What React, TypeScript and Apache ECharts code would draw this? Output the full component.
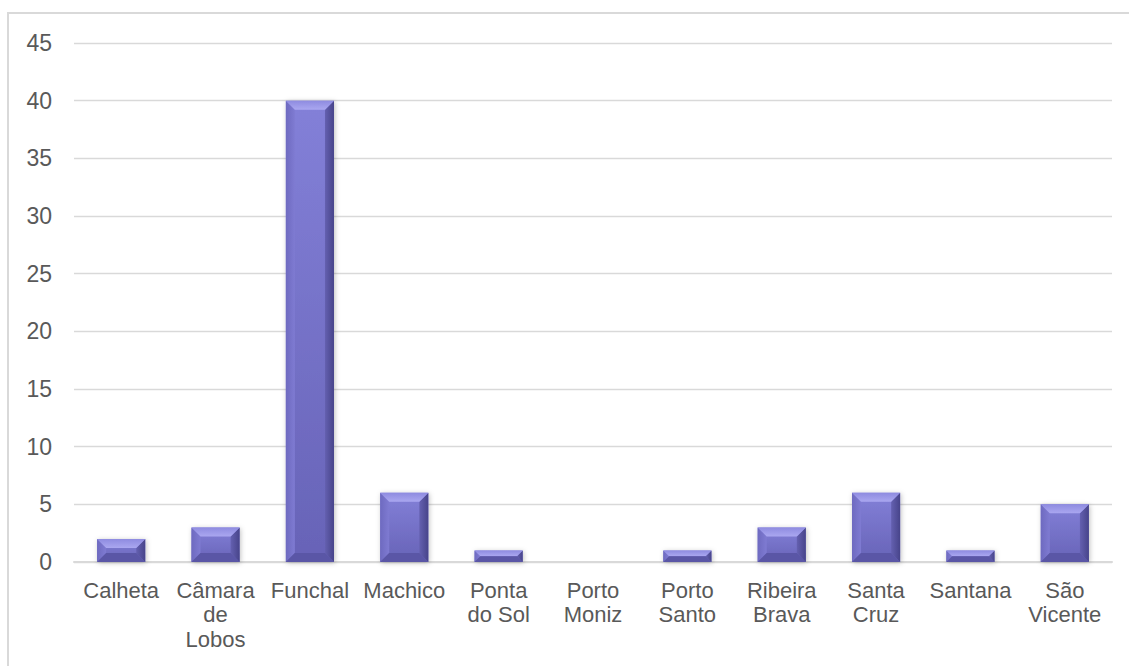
import React, { useEffect, useRef } from "react";
import * as echarts from "echarts";

const categories = [
  "Calheta",
  "Câmara\nde\nLobos",
  "Funchal",
  "Machico",
  "Ponta\ndo Sol",
  "Porto\nMoniz",
  "Porto\nSanto",
  "Ribeira\nBrava",
  "Santa\nCruz",
  "Santana",
  "São\nVicente",
];
const values = [2, 3, 40, 6, 1, 0, 1, 3, 6, 1, 5];
const yMin = 0;
const yMax = 45;
const yInterval = 5;

export default function App() {
  const ref = useRef<HTMLDivElement>(null);
  useEffect(() => {
    if (!ref.current) return;
    const chart = echarts.init(ref.current, null, { renderer: "svg" });
    const renderItem = (params: any, api: any) => {
      const idx = api.value(0);
      const val = api.value(1);
      if (!val) return null;
      const top = api.coord([idx, val]);
      const bot = api.coord([idx, 0]);
      const band = api.size([1, 0])[0];
      const w = band * 0.51;
      const x0 = top[0] - w / 2;
      const x1 = top[0] + w / 2;
      const y0 = top[1];
      const y1 = bot[1];
      const h = y1 - y0;
      const b = Math.min(9, h / 2, w / 2);
      return {
        type: "group",
        children: [
          {
            type: "rect",
            shape: { x: x0, y: y0, width: w, height: h },
            style: {
              fill: new echarts.graphic.LinearGradient(0, 0, 0, 1, [
                { offset: 0, color: "#8380d8" },
                { offset: 1, color: "#6763b7" },
              ]),
              shadowBlur: 5,
              shadowColor: "rgba(0,0,0,0.25)",
              shadowOffsetX: 1,
              shadowOffsetY: 1,
            },
          },
          {
            type: "polygon",
            shape: { points: [[x0, y0], [x0 + b, y0 + b], [x0 + b, y1 - b], [x0, y1]] },
            style: {
              fill: new echarts.graphic.LinearGradient(0, 0, 1, 0, [
                { offset: 0, color: "#6e6ac0" },
                { offset: 1, color: "#7f7bd2" },
              ]),
            },
          },
          {
            type: "polygon",
            shape: { points: [[x1, y0], [x1 - b, y0 + b], [x1 - b, y1 - b], [x1, y1]] },
            style: {
              fill: new echarts.graphic.LinearGradient(0, 0, 1, 0, [
                { offset: 0, color: "#6460b0" },
                { offset: 1, color: "#47448a" },
              ]),
            },
          },
          {
            type: "polygon",
            shape: { points: [[x0, y0], [x1, y0], [x1 - b, y0 + b], [x0 + b, y0 + b]] },
            style: {
              fill: new echarts.graphic.LinearGradient(0, 0, 0, 1, [
                { offset: 0, color: "#8e8be0" },
                { offset: 1, color: "#aaa7f0" },
              ]),
            },
          },
          {
            type: "polygon",
            shape: { points: [[x0, y1], [x1, y1], [x1 - b, y1 - b], [x0 + b, y1 - b]] },
            style: { fill: "#5a56a6" },
          },
        ],
      };
    };
    chart.setOption({
      animation: false,
      backgroundColor: "#ffffff",
      textStyle: { fontFamily: "Liberation Sans, Arial, sans-serif" },
      graphic: [
        {
          type: "rect",
          shape: { x: 8, y: 13, width: 1140, height: 700 },
          style: { fill: "none", stroke: "#d9d9d9", lineWidth: 2 },
          silent: true,
          z: -10,
        },
      ],
      grid: { left: 74, right: 17, top: 43, bottom: 104, containLabel: false },
      xAxis: {
        type: "category",
        data: categories,
        axisLine: { show: true, lineStyle: { color: "#d9d9d9", width: 2 } },
        axisTick: { show: false },
        axisLabel: {
          interval: 0,
          color: "#595959",
          fontSize: 22,
          lineHeight: 24.5,
          margin: 16,
          fontFamily: "Liberation Sans, Arial, sans-serif",
        },
      },
      yAxis: {
        type: "value",
        min: yMin,
        max: yMax,
        interval: yInterval,
        axisLine: { show: false },
        axisTick: { show: false },
        splitLine: { lineStyle: { color: "#d9d9d9", width: 1.3 } },
        axisLabel: {
          color: "#595959",
          fontSize: 23,
          margin: 22,
          fontFamily: "Liberation Sans, Arial, sans-serif",
        },
      },
      series: [
        {
          type: "custom",
          renderItem,
          data: values.map((v, i) => [i, v]),
          encode: { x: 0, y: 1 },
          z: 3,
        },
      ],
    });
    return () => chart.dispose();
  }, []);
  return (
    <div
      ref={ref}
      style={{ position: "fixed", left: 0, top: 0, width: 1129, height: 666 }}
    />
  );
}
